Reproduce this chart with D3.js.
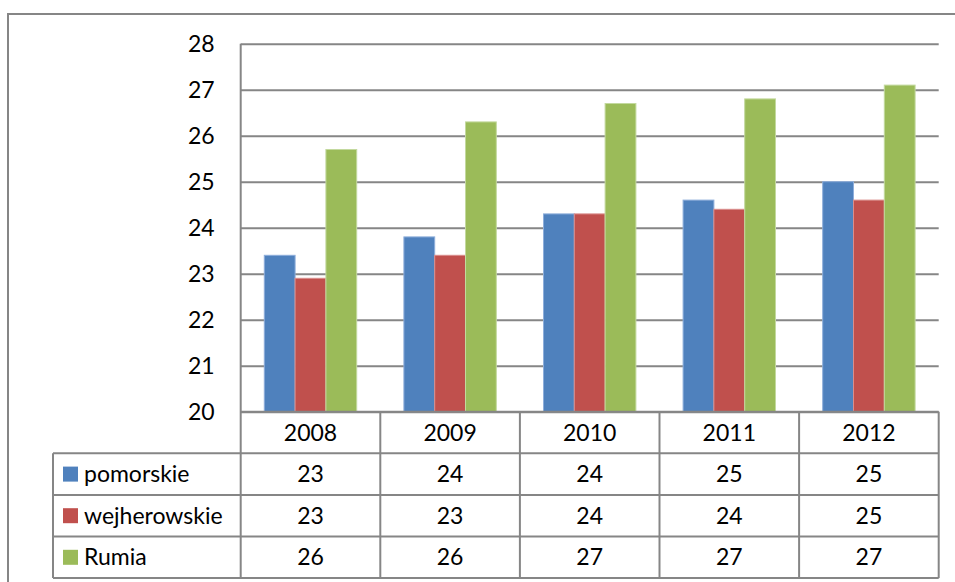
<!DOCTYPE html>
<html>
<head>
<meta charset="utf-8">
<script src="https://cdn.jsdelivr.net/npm/d3@7"></script>
<style>
  body { margin: 0; background: #fff; }
  text { font-family: Lato, "Open Sans", sans-serif; fill: #000; }
</style>
</head>
<body>
<div class="chart"></div>
<script>
// data
var years = ["2008", "2009", "2010", "2011", "2012"];
var seriesNames = ["pomorskie", "wejherowskie", "Rumia"];
var pomorskie = [23.4, 23.8, 24.3, 24.6, 25.0];
var wejherowskie = [22.9, 23.4, 24.3, 24.4, 24.6];
var rumia = [25.7, 26.3, 26.7, 26.8, 27.1];
var yTicks = [20, 21, 22, 23, 24, 25, 26, 27, 28];
var colors = ["#4F81BD", "#C0504D", "#9BBB59"];
var borders = ["#8EAEDB", "#DA8E8C", "#C3D99E"];

var values = [pomorskie, wejherowskie, rumia];

var W = 955, H = 582;
var plot = { left: 240.7, right: 938.7, top: 43.7, bottom: 411.7 };
var rowH = 41.6;
var legendLeft = 53;
var gridColor = "#868686";
var fontSize = 23;

var svg = d3.select(".chart").append("svg")
    .attr("width", W)
    .attr("height", H);

// outer chart frame (runs off the page right and bottom)
svg.append("rect")
    .attr("x", 8).attr("y", 14)
    .attr("width", 1000).attr("height", 700)
    .attr("fill", "none")
    .attr("stroke", gridColor)
    .attr("stroke-width", 2);

var x = d3.scaleBand()
    .domain(years)
    .range([plot.left, plot.right]);

var gap = x.bandwidth() * 0.338;
var x1 = d3.scaleBand()
    .domain(seriesNames)
    .range([gap / 2, x.bandwidth() - gap / 2]);

var y = d3.scaleLinear()
    .domain([20, 28])
    .range([plot.bottom, plot.top]);

// gridlines + y labels
var yAxis = svg.append("g")
    .attr("class", "yAxis")
    .attr("transform", "translate(" + plot.left + ",0)")
    .call(d3.axisLeft(y)
        .tickValues(yTicks)
        .tickSize(-(plot.right - plot.left))
        .tickPadding(26)
        .tickFormat(d3.format("d")));
yAxis.select(".domain").remove();
yAxis.selectAll("line")
    .attr("stroke", gridColor)
    .attr("stroke-width", 2);
yAxis.selectAll("text")
    .style("font-size", fontSize + "px")
    .style("font-family", "Lato, sans-serif")
    .attr("fill", "#000");

// bars
var groups = svg.append("g").selectAll("g")
    .data(seriesNames)
    .enter().append("g")
    .attr("fill", function (d, i) { return colors[i]; })
    .attr("stroke", function (d, i) { return borders[i]; });

groups.selectAll("rect")
    .data(function (d, i) {
        return values[i].map(function (v, j) {
            return { series: d, year: years[j], value: v };
        });
    })
    .enter().append("rect")
    .attr("x", function (d) { return x(d.year) + x1(d.series); })
    .attr("y", function (d) { return y(d.value); })
    .attr("width", x1.bandwidth())
    .attr("height", function (d) { return y(20) - y(d.value); })
    .attr("stroke-width", 1);

// data table
var table = svg.append("g")
    .attr("stroke", gridColor)
    .attr("stroke-width", 2);

var tableBottom = plot.bottom + rowH * 4;

// vertical axis line down through the table
table.append("line")
    .attr("x1", plot.left).attr("x2", plot.left)
    .attr("y1", plot.top).attr("y2", tableBottom);

// category separators
years.forEach(function (yr) {
    var xr = x(yr) + x.bandwidth();
    table.append("line")
        .attr("x1", xr).attr("x2", xr)
        .attr("y1", plot.bottom).attr("y2", tableBottom);
});

// horizontal rows
for (var r = 0; r <= 4; r++) {
    table.append("line")
        .attr("x1", r === 0 ? plot.left : legendLeft)
        .attr("x2", plot.right)
        .attr("y1", plot.bottom + rowH * r)
        .attr("y2", plot.bottom + rowH * r);
}
table.append("line")
    .attr("x1", legendLeft).attr("x2", legendLeft)
    .attr("y1", plot.bottom + rowH).attr("y2", tableBottom);

// year headers
svg.append("g").selectAll("text")
    .data(years)
    .enter().append("text")
    .attr("x", function (d) { return x(d) + x.bandwidth() / 2; })
    .attr("y", plot.bottom + rowH / 2)
    .attr("dy", "0.35em")
    .attr("text-anchor", "middle")
    .style("font-size", fontSize + "px")
    .text(function (d) { return d; });

var fmt = d3.format(".0f");

seriesNames.forEach(function (name, i) {
    var cy = plot.bottom + rowH * (i + 1) + rowH / 2;
    var row = svg.append("g");

    row.append("rect")
        .attr("x", 63).attr("y", cy - 7.5)
        .attr("width", 15).attr("height", 15)
        .attr("fill", colors[i]);

    row.append("text")
        .attr("x", 84)
        .attr("y", cy)
        .attr("dy", "0.35em")
        .style("font-size", fontSize + "px")
        .text(name);

    row.selectAll(".val")
        .data(values[i])
        .enter().append("text")
        .attr("class", "val")
        .attr("x", function (d, j) { return x(years[j]) + x.bandwidth() / 2; })
        .attr("y", cy)
        .attr("dy", "0.35em")
        .attr("text-anchor", "middle")
        .style("font-size", fontSize + "px")
        .text(function (d) { return fmt(d); });
});
</script>
</body>
</html>
